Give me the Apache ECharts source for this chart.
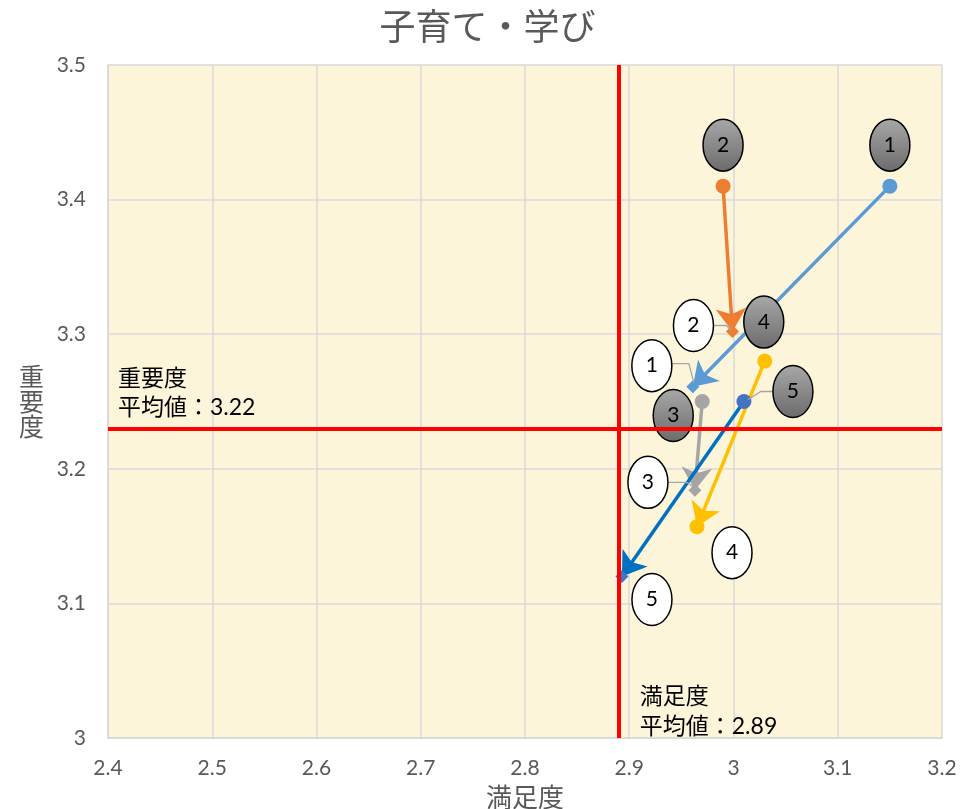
<!DOCTYPE html>
<html><head><meta charset="utf-8">
<script src="https://cdn.jsdelivr.net/npm/echarts@6/dist/echarts.min.js"></script>
<style>html,body{margin:0;padding:0;background:#fff}#c{width:975px;height:809px}</style>
</head><body><div id="c"></div>
<script>
// ---- data ----
const chartTitle = '子育て・学び';
const xAxisName = '満足度';
const yAxisName = '重要度';
const xRange = [2.4, 3.2, 0.1];
const yRange = [3.0, 3.5, 0.1];
const itemNames = ['1', '2', '3', '4', '5'];
const beforeX = [3.15, 2.99, 2.97, 3.03, 3.01];
const beforeY = [3.41, 3.41, 3.25, 3.28, 3.25];
const afterX = [2.961, 2.999, 2.963, 2.965, 2.893];
const afterY = [3.261, 3.302, 3.184, 3.157, 3.120];
const avgSatisfaction = 2.889;
const avgImportance = 3.229;
const avgSatisfactionText = '満足度\n平均値：2.89';
const avgImportanceText = '重要度\n平均値：3.22';

// ---- styles ----
const markerColors = ['#5B9BD5', '#ED7D31', '#A5A5A5', '#FFC000', '#4472C4'];
const lineColors = ['#5B9BD5', '#ED7D31', '#A5A5A5', '#FFC000', '#0070C0'];
const afterSymbols = ['diamond', 'diamond', 'diamond', 'circle', 'diamond'];
const numFont = 'Lato, "Noto Sans CJK JP", sans-serif';
const cjkFont = '"Noto Sans CJK JP", Lato, sans-serif';
// label ellipse offsets (pixels, relative to the point) and leader lines
const beforeLabelStyle = [
  {dx: 0, dy: -41},
  {dx: 0, dy: -41},
  {dx: -29, dy: 14},
  {dx: -1, dy: -39},
  {dx: 49, dy: -10, leader: [[4, -2], [17, -10], [29, -10]]}
];
const afterLabelStyle = [
  {dx: -41, dy: -21, leader: [[-21, -23], [-4, -23], [1, -4]]},
  {dx: -39, dy: -6, leader: [[-19, -6], [-6, -6], [-1, -1]]},
  {dx: -47, dy: -8, leader: [[-27, -8], [-8, -8], [0, -2]]},
  {dx: 35, dy: 26},
  {dx: 30, dy: 23}
];

const chart = echarts.init(document.getElementById('c'), null, {renderer: 'canvas'});

function labelSeries(xs, ys, styles, filled) {
  return {
    type: 'custom',
    coordinateSystem: 'cartesian2d',
    z: 4,
    silent: true,
    data: xs.map((x, i) => [x, ys[i]]),
    renderItem(params, api) {
      const i = params.dataIndex;
      const p = api.coord([api.value(0), api.value(1)]);
      const st = styles[i];
      const cx = p[0] + st.dx, cy = p[1] + st.dy;
      const children = [];
      if (st.leader) {
        children.push({
          type: 'polyline',
          shape: {points: st.leader.map(q => [p[0] + q[0], p[1] + q[1]])},
          style: {stroke: '#A6A6A6', lineWidth: 1.3, fill: null}
        });
      }
      children.push({
        type: 'ellipse',
        shape: {cx: cx, cy: cy, rx: 20, ry: 26},
        style: {
          fill: filled ? new echarts.graphic.LinearGradient(0, 0, 0, 1, [
            {offset: 0, color: '#A8A8A8'}, {offset: 1, color: '#6B6B6B'}
          ]) : '#FFFFFF',
          stroke: '#000000', lineWidth: 1.5
        }
      });
      children.push({
        type: 'text',
        x: cx, y: cy,
        style: {
          text: itemNames[i], align: 'center', verticalAlign: 'middle',
          fontSize: 21, fontFamily: numFont, fill: '#000000'
        }
      });
      return {type: 'group', children: children};
    }
  };
}

const option = {
  backgroundColor: '#FFFFFF',
  animation: false,
  title: {
    text: chartTitle, left: 'center', top: 3,
    textStyle: {fontSize: 36, fontWeight: 'normal', color: '#595959', fontFamily: cjkFont}
  },
  grid: {left: 108, right: 33, top: 65, bottom: 71, show: true,
    backgroundColor: '#FDF5DA', borderWidth: 0, outerBoundsMode: 'none'},
  xAxis: {
    type: 'value', min: xRange[0], max: xRange[1], interval: xRange[2],
    name: xAxisName, nameLocation: 'middle', nameGap: 46,
    nameTextStyle: {fontSize: 26, color: '#595959', fontFamily: cjkFont},
    axisLine: {show: true, lineStyle: {color: '#D9D9D9', width: 1.5}},
    axisTick: {show: false},
    axisLabel: {color: '#595959', fontSize: 21, fontFamily: numFont, margin: 20},
    splitLine: {show: true, lineStyle: {color: '#D9D9D9', width: 1.5}}
  },
  yAxis: {
    type: 'value', min: yRange[0], max: yRange[1], interval: yRange[2],
    name: yAxisName.split('').join('\n'), nameLocation: 'middle', nameRotate: 0, nameGap: 64,
    nameTextStyle: {fontSize: 25, lineHeight: 25, color: '#595959', fontFamily: cjkFont},
    axisLine: {show: true, lineStyle: {color: '#D9D9D9', width: 1.5}},
    axisTick: {show: false},
    axisLabel: {color: '#595959', fontSize: 21, fontFamily: numFont, margin: 22},
    splitLine: {show: true, lineStyle: {color: '#D9D9D9', width: 1.5}}
  },
  series: [
    {
      type: 'lines',
      coordinateSystem: 'cartesian2d',
      z: 2,
      symbol: ['none', 'arrow'],
      symbolSize: [8, 23],
      lineStyle: {width: 3.5, opacity: 1, curveness: 0},
      data: itemNames.map((n, i) => ({
        coords: [[beforeX[i], beforeY[i]], [afterX[i], afterY[i]]],
        lineStyle: {color: lineColors[i]}
      }))
    },
    {
      type: 'scatter', z: 3, symbol: 'circle', symbolSize: 15,
      itemStyle: {opacity: 1},
      data: itemNames.map((n, i) => ({value: [beforeX[i], beforeY[i]], itemStyle: {color: markerColors[i], opacity: 1}}))
    },
    {
      type: 'scatter', z: 3,
      itemStyle: {opacity: 1},
      data: itemNames.map((n, i) => ({
        value: [afterX[i], afterY[i]],
        symbol: afterSymbols[i],
        symbolSize: afterSymbols[i] === 'circle' ? 15 : 13,
        itemStyle: {color: markerColors[i], opacity: 1}
      }))
    },
    labelSeries(beforeX, beforeY, beforeLabelStyle, true),
    labelSeries(afterX, afterY, afterLabelStyle, false),
    {
      type: 'scatter', z: 10, symbolSize: 0, silent: true,
      data: [[avgSatisfaction, avgImportance]],
      markLine: {
        silent: true, symbol: 'none', animation: false,
        label: {show: false},
        lineStyle: {color: '#FF0000', width: 4, type: 'solid', opacity: 1},
        data: [{xAxis: avgSatisfaction}, {yAxis: avgImportance}]
      }
    }
  ]
};
chart.setOption(option);

const pAvg = chart.convertToPixel({gridIndex: 0}, [avgSatisfaction, avgImportance]);
const pMin = chart.convertToPixel({gridIndex: 0}, [xRange[0], yRange[0]]);
chart.setOption({
  graphic: [
    {
      type: 'text', x: pMin[0] + 10, y: pAvg[1] - 8, z: 20,
      style: {text: avgImportanceText, align: 'left', verticalAlign: 'bottom',
        fontSize: 23, lineHeight: 29, fontFamily: numFont, fill: '#000000'}
    },
    {
      type: 'text', x: pAvg[0] + 22, y: pMin[1] + 4, z: 20,
      style: {text: avgSatisfactionText, align: 'left', verticalAlign: 'bottom',
        fontSize: 23, lineHeight: 30, fontFamily: numFont, fill: '#000000'}
    }
  ]
});
</script>
</body></html>
